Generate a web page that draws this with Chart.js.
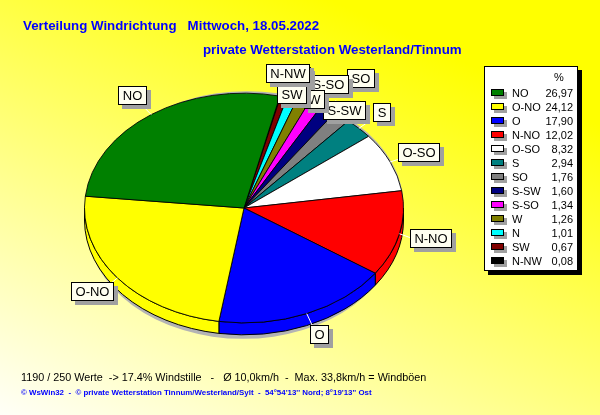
<!DOCTYPE html>
<html>
<head>
<meta charset="utf-8">
<script src="https://cdn.jsdelivr.net/npm/chart.js@4.4.0/dist/chart.umd.min.js"></script>
<style>
  html, body { margin: 0; padding: 0; }
  #wrap {
    position: relative; width: 600px; height: 415px; overflow: hidden;
    background: linear-gradient(205deg, #ffff00 18%, #fffff8 100%);
    font-family: "Liberation Sans", Arial, sans-serif;
  }
  #wrap canvas { position: absolute; left: 0; top: 0; }
  .t { position: absolute; white-space: pre; line-height: 1; }
  .title { color: #0000ff; font-weight: bold; font-size: 13.3px; }
  .info { color: #000; font-size: 10.8px; }
  .foot { color: #0000ff; font-weight: bold; font-size: 7.9px; }
</style>
</head>
<body>
<div id="wrap">
  <canvas id="windChart" width="600" height="415"></canvas>
  <div class="t title" style="left:23px; top:19px;">Verteilung Windrichtung   Mittwoch, 18.05.2022</div>
  <div class="t title" style="left:203px; top:43px;">private Wetterstation Westerland/Tinnum</div>
  <div class="t info" style="left:21px; top:372px;">1190 / 250 Werte  -&gt; 17.4% Windstille   -   Ø 10,0km/h  -  Max. 33,8km/h = Windböen</div>
  <div class="t foot" style="left:21px; top:389px;">© WsWin32  -  © private Wetterstation Tinnum/Westerland/Sylt  -  54°54'13'' Nord; 8°19'13'' Ost</div>
</div>
<script>
// Windrichtung, Anteil in %
var directions = ['NO', 'O-NO', 'O', 'N-NO', 'O-SO', 'S', 'SO', 'S-SW', 'S-SO', 'W', 'N', 'SW', 'N-NW'];
var shares = [26.97, 24.12, 17.90, 12.02, 8.32, 2.94, 1.76, 1.60, 1.34, 1.26, 1.01, 0.67, 0.08];
var sliceColors = ['#008000', '#ffff00', '#0000ff', '#ff0000', '#ffffff', '#008080', '#808080',
                   '#000080', '#ff00ff', '#808000', '#00ffff', '#800000', '#000000'];

var DEPTH = 12;
var TILT = 0.72;
var FONT = '"Liberation Sans", Arial, sans-serif';

// the original runs counter-clockwise, chart.js clockwise -> reverse
var revLabels = directions.slice().reverse();
var revShares = shares.slice().reverse();
var revColors = sliceColors.slice().reverse();

function fmt(v) {
  return v.toFixed(2).replace('.', ',');
}

function pieGeom(chart) {
  var arcs = chart.getDatasetMeta(0).data;
  return { arcs: arcs, cx: arcs[0].x, cy: arcs[0].y, r: arcs[0].outerRadius };
}

function overlap(a, b) {
  var w = Math.min(a.x + a.w, b.x + b.w) - Math.max(a.x, b.x);
  var h = Math.min(a.y + a.h, b.y + b.h) - Math.max(a.y, b.y);
  return (w > 0 && h > 0) ? w * h : 0;
}

var tiltPlugin = {
  id: 'tilt',
  beforeDatasetsDraw: function(chart) {
    var ctx = chart.ctx;
    var g = pieGeom(chart);
    var ry = g.r * TILT;

    // shadow
    ctx.save();
    ctx.fillStyle = '#b4b4b4';
    ctx.beginPath();
    ctx.ellipse(g.cx + 3, g.cy - 2, g.r - 3, ry, 0, Math.PI, 2 * Math.PI);
    ctx.ellipse(g.cx - 1, g.cy + DEPTH + 4, g.r - 3, ry, 0, 0, Math.PI);
    ctx.closePath();
    ctx.fill();

    // side wall, only front half
    ctx.strokeStyle = '#000';
    ctx.lineWidth = 1;
    g.arcs.forEach(function(arc) {
      var s = arc.startAngle, e = arc.endAngle;
      for (var k = -2; k <= 2; k++) {
        var lo = Math.max(s, 2 * Math.PI * k);
        var hi = Math.min(e, 2 * Math.PI * k + Math.PI);
        if (hi <= lo) continue;
        ctx.beginPath();
        ctx.ellipse(g.cx, g.cy, g.r, ry, 0, lo, hi);
        ctx.ellipse(g.cx, g.cy + DEPTH, g.r, ry, 0, hi, lo, true);
        ctx.closePath();
        ctx.fillStyle = arc.options.backgroundColor;
        ctx.fill();
        ctx.stroke();
      }
    });
    ctx.restore();

    // squash the top surface into an ellipse
    ctx.save();
    ctx.translate(g.cx, g.cy);
    ctx.scale(1, TILT);
    ctx.translate(-g.cx, -g.cy);
  },
  afterDatasetsDraw: function(chart) {
    var ctx = chart.ctx;
    ctx.restore();

    var g = pieGeom(chart);
    var ry = g.r * TILT;
    var n = directions.length;
    // keep the subtitle free
    var blocked = [{ x: 200, y: 38, w: 265, h: 20 }];
    var placed = [];
    ctx.save();
    ctx.font = '13px ' + FONT;

    for (var i = 0; i < n; i++) {
      var arc = g.arcs[n - 1 - i];
      var mid = (arc.startAngle + arc.endAngle) / 2;
      var c = Math.cos(mid), s = Math.sin(mid);

      // little white tick
      ctx.strokeStyle = '#fff';
      ctx.lineWidth = 1;
      ctx.beginPath();
      ctx.moveTo(g.cx + c * g.r, g.cy + s * ry);
      ctx.lineTo(g.cx + c * g.r * 1.1, g.cy + s * ry * 1.1 + (s > 0 ? 3 : 0));
      ctx.stroke();

      var w = Math.round(ctx.measureText(directions[i]).width) + 9;
      var h = 19;
      var bx = Math.round(g.cx + c * g.r * 1.2 - w / 2);
      var by = Math.round(g.cy + s * ry * 1.2 - h / 2);
      var best = null, bestArea = Infinity;
      [0, 20, -20].forEach(function(dy) {
        var box = { x: bx, y: by + dy, w: w, h: h };
        var area = 0;
        placed.concat(blocked).forEach(function(p) { area += overlap(box, p); });
        if (area < bestArea) { bestArea = area; best = box; }
      });
      best.text = directions[i];
      placed.push(best);
    }

    placed.forEach(function(b) {
      ctx.fillStyle = '#a0a0a0';
      ctx.fillRect(b.x + 4, b.y + 4, b.w, b.h);
      ctx.fillStyle = '#fffff0';
      ctx.fillRect(b.x, b.y, b.w, b.h);
      ctx.strokeStyle = '#000';
      ctx.strokeRect(b.x + 0.5, b.y + 0.5, b.w - 1, b.h - 1);
      ctx.fillStyle = '#000';
      ctx.textAlign = 'center';
      ctx.textBaseline = 'middle';
      ctx.fillText(b.text, b.x + b.w / 2, b.y + b.h / 2 + 1);
    });
    ctx.restore();
  }
};

var legendPlugin = {
  id: 'windLegend',
  afterDraw: function(chart) {
    var ctx = chart.ctx;
    var L = 484, T = 66, W = 94, H = 205;
    ctx.save();
    ctx.fillStyle = '#000';
    ctx.fillRect(L + 4, T + 4, W, H);
    ctx.fillStyle = '#fff';
    ctx.fillRect(L, T, W, H);
    ctx.strokeStyle = '#000';
    ctx.lineWidth = 1;
    ctx.strokeRect(L + 0.5, T + 0.5, W - 1, H - 1);

    ctx.font = '11px ' + FONT;
    ctx.fillStyle = '#000';
    ctx.textBaseline = 'alphabetic';
    ctx.textAlign = 'center';
    ctx.fillText('%', 559, 81);

    for (var i = 0; i < directions.length; i++) {
      var y = 89 + 14 * i;
      ctx.fillStyle = '#a0a0a0';
      ctx.fillRect(494, y + 3, 13, 7);
      ctx.fillStyle = sliceColors[i];
      ctx.fillRect(491, y, 13, 7);
      ctx.strokeRect(491.5, y + 0.5, 12, 6);
      ctx.fillStyle = '#000';
      ctx.textAlign = 'left';
      ctx.fillText(directions[i], 512, y + 8);
      ctx.textAlign = 'right';
      ctx.fillText(fmt(shares[i]), 573, y + 8);
    }
    ctx.restore();
  }
};

var ctx = document.getElementById('windChart');

var chart = new Chart(ctx, {
  type: 'pie',
  data: {
    labels: revLabels,
    datasets: [{
      data: revShares,
      backgroundColor: revColors,
      borderColor: '#000',
      borderWidth: 1,
      hoverOffset: 0,
      clip: false
    }]
  },
  options: {
    responsive: false,
    animation: false,
    events: [],
    rotation: 13,
    layout: { padding: { left: 84, right: 196, top: 48, bottom: 47 } },
    plugins: {
      legend: { display: false },
      tooltip: { enabled: false }
    }
  },
  plugins: [tiltPlugin, legendPlugin]
});
</script>
</body>
</html>
